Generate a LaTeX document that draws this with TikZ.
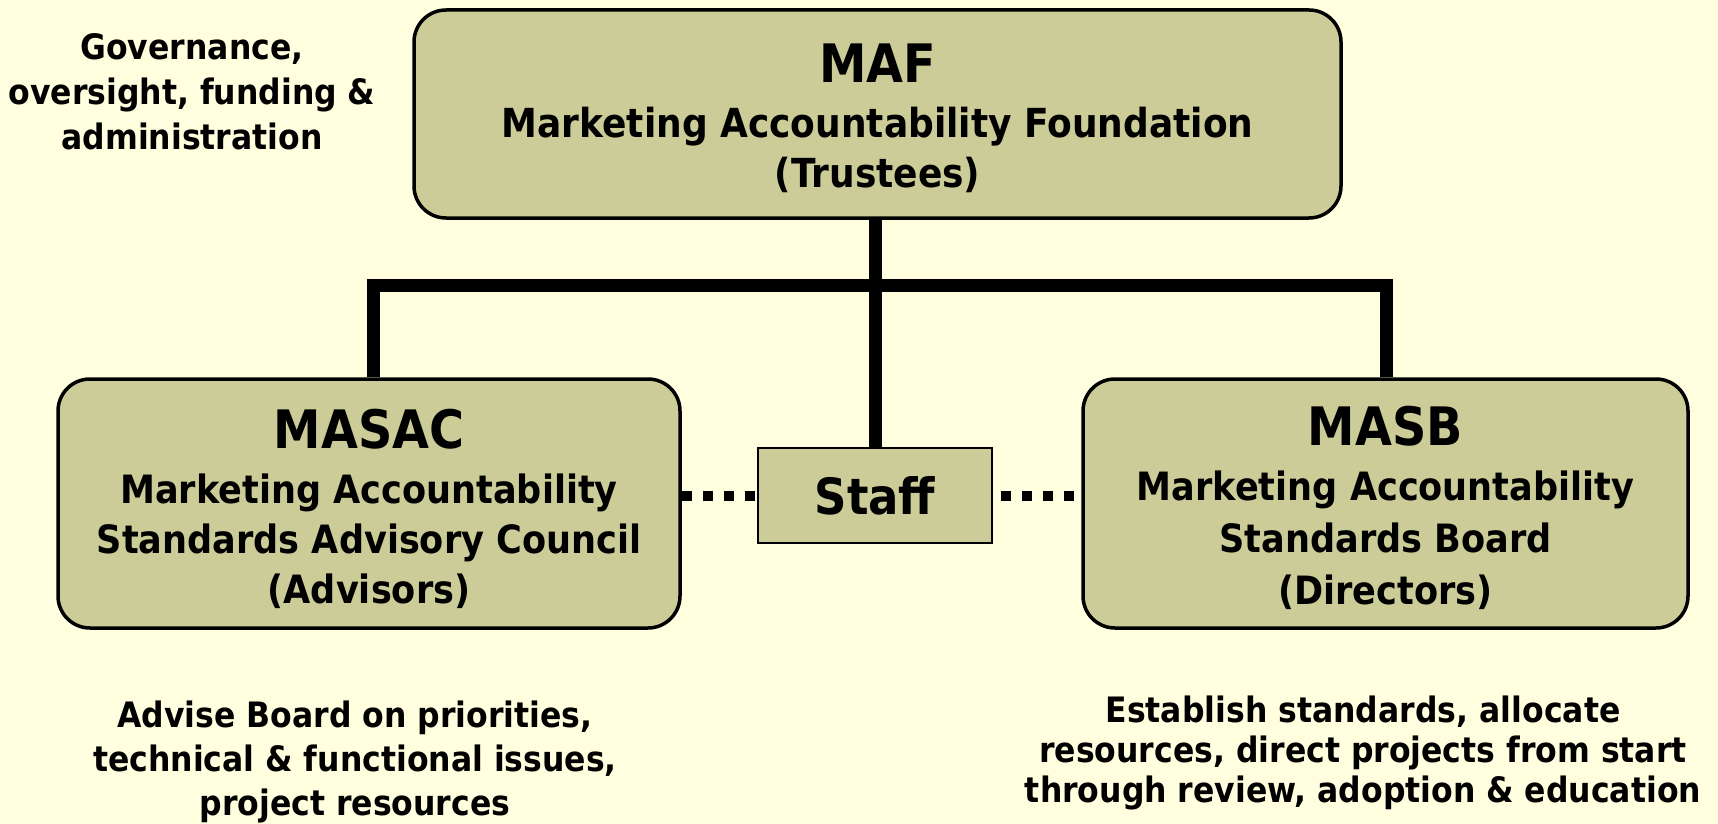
\documentclass[tikz,border=0pt]{standalone}
\usepackage{fontspec}
\setmainfont{DejaVu Sans}[FakeStretch=0.9]
\definecolor{paper}{RGB}{255,255,224}
\definecolor{khaki}{RGB}{204,204,153}
\begin{document}
\begin{tikzpicture}[x=1pt,y=-1pt,
  box/.style={draw,fill=khaki,line width=3.5pt,rounded corners=32pt,align=center,inner sep=0pt,font=\bfseries\fontsize{39}{50}\selectfont},
  tree/.style={line width=13pt},
  dots/.style={line width=10pt,dash pattern=on 10pt off 11pt},
  note/.style={align=center,inner sep=0pt,font=\bfseries\fontsize{35}{44}\selectfont}]
\fill[paper] (0,0) rectangle (1718,824);
\useasboundingbox (0,0) rectangle (1718,824);
\node[box,minimum width=927pt,minimum height=208pt,font=\bfseries\fontsize{40}{50}\selectfont] (maf) at (877.5,114) {\rule{0pt}{47.5pt}{\fontsize{53}{58}\selectfont MAF}\\[5pt] Marketing Accountability Foundation\\ (Trustees)};
\node[box,minimum width=622pt,minimum height=249pt] (masac) at (369,503.5) {\rule{0pt}{49.5pt}{\fontsize{53}{58}\selectfont MASAC}\\[5pt] Marketing Accountability\\ Standards Advisory Council\\ (Advisors)};
\node[box,minimum width=605pt,minimum height=249pt] (masb) at (1385.5,503.5) {\rule{0pt}{47.5pt}{\fontsize{53}{58}\selectfont MASB}\\[5pt] Marketing Accountability\\[2pt] Standards Board\\[2pt] (Directors)};
\node[box,rounded corners=0pt,line width=2pt,minimum width=234pt,minimum height=95pt,font=\bfseries\fontsize{50}{60}\selectfont] (staff) at (875,495.5) {Staff};
\node[note,font=\bfseries\fontsize{35}{45}\selectfont] (gov) at (192,92) {Governance,\\ oversight, funding \&\\ administration};
\node[note] (advise) at (355,762) {Advise Board on priorities,\\ technical \& functional issues,\\ project resources};
\node[note,font=\bfseries\fontsize{35}{40}\selectfont] (establish) at (1363,753) {Establish standards, allocate\\ resources, direct projects from start\\ through review, adoption \& education};
\coordinate (lft) at (373,285);
\coordinate (rgt) at (1386,285);
\draw[tree] (staff.north |- maf.south) -- (staff.north);
\draw[tree,line join=miter] (masac.north -| lft) -- (lft) -- (rgt) -- (masb.north -| rgt);
\draw[dots] (masac.east |- staff.west) -- (staff.west);
\draw[dots,dash phase=13pt] (staff.east) -- (masb.west |- staff.east);
\end{tikzpicture}
\end{document}
